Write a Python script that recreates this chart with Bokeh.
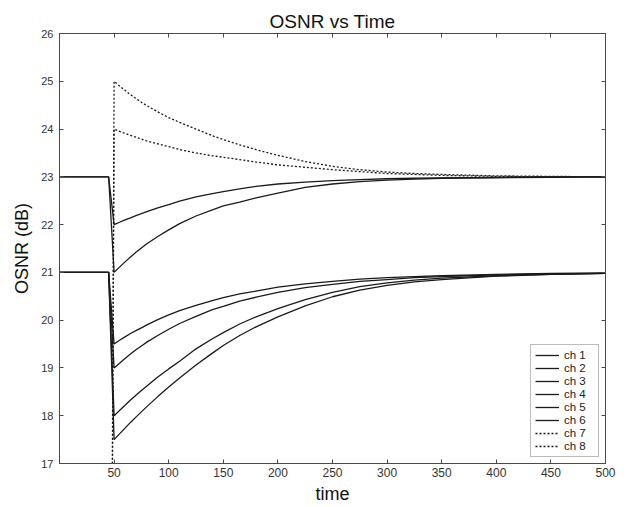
from bokeh.plotting import figure
from bokeh.models import LinearAxis, FixedTicker, Range1d, Legend, LegendItem
from bokeh.embed import file_html
from bokeh.resources import INLINE

# ---- data ----
t_main = [0, 45, 50, 55, 60, 65, 70, 75, 80, 90, 100, 110, 125, 140, 150, 165, 180,
          200, 225, 250, 275, 300, 325, 350, 400, 450, 500]
t_add = t_main[1:]

ch1 = [23, 23, 22.00, 22.05, 22.10, 22.14, 22.19, 22.23, 22.27, 22.35, 22.42, 22.49, 22.58, 22.65, 22.69,
       22.75, 22.80, 22.85, 22.89, 22.92, 22.94, 22.96, 22.97, 22.98, 22.99, 23.00, 23.00]
ch2 = [23, 23, 21.00, 21.11, 21.22, 21.32, 21.42, 21.51, 21.60, 21.75, 21.89, 22.02, 22.18, 22.31, 22.39,
       22.47, 22.56, 22.66, 22.78, 22.85, 22.90, 22.93, 22.95, 22.97, 22.98, 22.99, 23.00]
ch3 = [21, 21, 19.50, 19.58, 19.65, 19.72, 19.78, 19.84, 19.90, 20.01, 20.11, 20.20, 20.31, 20.41, 20.47,
       20.55, 20.61, 20.69, 20.76, 20.81, 20.86, 20.89, 20.91, 20.93, 20.96, 20.98, 20.99]
ch4 = [21, 21, 19.00, 19.10, 19.20, 19.29, 19.38, 19.46, 19.54, 19.68, 19.81, 19.93, 20.08, 20.22, 20.29,
       20.40, 20.48, 20.58, 20.68, 20.75, 20.81, 20.85, 20.89, 20.91, 20.95, 20.97, 20.98]
ch5 = [21, 21, 18.00, 18.11, 18.22, 18.33, 18.43, 18.53, 18.62, 18.81, 18.98, 19.14, 19.40, 19.61, 19.74,
       19.92, 20.07, 20.24, 20.43, 20.58, 20.70, 20.78, 20.84, 20.88, 20.93, 20.96, 20.98]
ch6 = [21, 21, 17.50, 17.62, 17.74, 17.86, 17.97, 18.08, 18.19, 18.40, 18.60, 18.79, 19.06, 19.31, 19.47,
       19.68, 19.86, 20.07, 20.30, 20.49, 20.63, 20.73, 20.80, 20.85, 20.92, 20.96, 20.98]
# channels 7 and 8 are switched on at t = 50 (off before)
ch7 = [0, 25.00, 24.90, 24.81, 24.72, 24.64, 24.56, 24.49, 24.36, 24.24, 24.14, 24.00, 23.86, 23.78,
       23.67, 23.57, 23.45, 23.32, 23.22, 23.15, 23.10, 23.07, 23.05, 23.02, 23.01, 23.00]
ch8 = [0, 24.00, 23.95, 23.91, 23.87, 23.83, 23.79, 23.75, 23.69, 23.63, 23.57, 23.50, 23.44, 23.41,
       23.36, 23.31, 23.25, 23.20, 23.15, 23.11, 23.07, 23.05, 23.03, 23.01, 23.00, 23.00]

x_ticks = [50, 100, 150, 200, 250, 300, 350, 400, 450, 500]
y_ticks = [17, 18, 19, 20, 21, 22, 23, 24, 25, 26]

FONT = "Liberation Sans"
AXC = "#4a4a4a"

p = figure(width=635, height=507, x_range=Range1d(0, 500), y_range=Range1d(17, 26),
           output_backend="svg", toolbar_location=None,
           min_border_left=59, min_border_right=30, min_border_top=33, min_border_bottom=44)
p.grid.visible = False
p.outline_line_color = AXC
p.background_fill_color = "white"

p.title.text = "OSNR vs Time"
p.title.align = "center"
p.title.text_font = FONT
p.title.text_font_size = "19px"
p.title.text_font_style = "normal"
p.title.text_color = "#111111"
p.title.standoff = 4

def style_axis(ax, ticks, show_labels=True, size="12px"):
    ax.ticker = FixedTicker(ticks=ticks)
    ax.major_tick_in = 4
    ax.major_tick_out = 0
    ax.minor_tick_line_color = None
    ax.axis_line_color = AXC
    ax.major_tick_line_color = AXC
    ax.major_label_text_font = FONT
    if show_labels:
        ax.major_label_text_color = "#333333"
        ax.major_label_text_font_size = size
    else:
        ax.major_label_text_color = None
        ax.major_label_standoff = 0

style_axis(p.xaxis[0], x_ticks, True, "12px")
style_axis(p.yaxis[0], y_ticks, True, "11px")
p.xaxis[0].major_label_standoff = 4
p.yaxis[0].major_label_standoff = 6

for ax, lab in ((p.xaxis[0], "time"), (p.yaxis[0], "OSNR (dB)")):
    ax.axis_label = lab
    ax.axis_label_text_font = FONT
    ax.axis_label_text_font_size = "18px"
    ax.axis_label_text_font_style = "normal"
    ax.axis_label_text_color = "#111111"
p.xaxis[0].axis_label_standoff = 4
p.yaxis[0].axis_label_standoff = 6

top = LinearAxis()
style_axis(top, x_ticks, False)
p.add_layout(top, "above")
right = LinearAxis()
style_axis(right, y_ticks, False)
p.add_layout(right, "right")

LC = "#1a1a1a"
items = []
for name, ys in (("ch 1", ch1), ("ch 2", ch2), ("ch 3", ch3), ("ch 4", ch4), ("ch 5", ch5), ("ch 6", ch6)):
    r = p.line(t_main, ys, line_color=LC, line_width=1.3)
    items.append(LegendItem(label=name, renderers=[r]))
for name, ys in (("ch 7", ch7), ("ch 8", ch8)):
    r = p.line(t_add, ys, line_color=LC, line_width=1.3, line_dash="2 2")
    items.append(LegendItem(label=name, renderers=[r]))

legend = Legend(items=items, location="bottom_right", margin=6, padding=4, spacing=1,
                label_height=12, glyph_height=12, glyph_width=24, label_standoff=5, label_width=30,
                label_text_font=FONT, label_text_font_size="11.5px", label_text_color="#222222",
                border_line_color="#777777", border_line_width=1, background_fill_alpha=1)
p.add_layout(legend)

open("out.html", "w").write(file_html(p, INLINE))
